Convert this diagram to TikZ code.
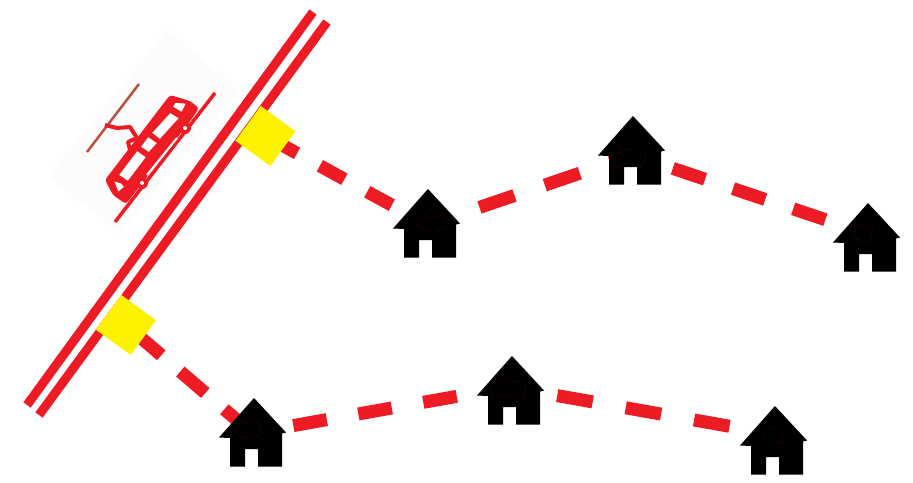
\documentclass[tikz,border=0pt]{standalone}
\usetikzlibrary{positioning,backgrounds}
\definecolor{railred}{HTML}{ED1C24}
\definecolor{stopyellow}{HTML}{FFF200}
\definecolor{wirebrown}{HTML}{B5533F}
\definecolor{tramhaze}{HTML}{FDFBFC}
\begin{document}
\begin{tikzpicture}[
  x=1pt,y=-1pt,
  rail/.style={draw=railred,line width=9pt},
  stopbox/.style={draw=none,fill=stopyellow,minimum size=43pt,inner sep=0pt,rotate=-36},
  link/.style={draw=railred,line width=13pt},
  pane/.style={fill=white,draw=railred,line width=1.5pt},
  roofline/.style={draw=railred!60!black,line width=0.35pt,densely dotted},
  hut/.pic={
    \fill[black] (0,0) -- (32,34.5) -- (28,35.5) -- (28,68.5) -- (4,68.5) -- (4,51)
      -- (-9,51) -- (-9,68.5) -- (-24,68.5) -- (-24,40) -- (-35,39.5) -- cycle;
  }
]
\useasboundingbox (0,0) rectangle (913,482);

% Stops and house points
\node[stopbox] (stopa) at (265.5,136) {};
\node[stopbox] (stopb) at (126,325) {};
\coordinate (hs1) at (428,225);
\coordinate (hs2) at (633,155);
\coordinate (hs3) at (868,234);
\coordinate (hs4) at (252,433);
\coordinate (hs5) at (509,387);
\coordinate (hs6) at (773,434);

\begin{scope}[on background layer]
% Tram
\fill[tramhaze] (167,30) -- (240,90) -- (120,233) -- (48,177) -- cycle;
\draw[wirebrown,line width=2.5pt] (139,84) -- (87,152);
\draw[railred,line width=3.5pt] (215,93) -- (115,222);
\draw[railred,line width=4pt,line join=round] (105,125) -- (117,128) -- (130,127) -- (137,138);
\draw[railred,line width=4pt,line join=round] (137,138) -- (128,142) -- (130,150);
\fill[railred,rounded corners=3pt] (170,95) -- (190,101) -- (199,108) -- (191,120)
  -- (126,204) -- (113,195) -- (105,180) -- cycle;
\fill[railred] (185,128) circle (6);
\fill[railred] (142,183) circle (6);
\filldraw[pane] (175,102) -- (187,103) -- (182,113) -- (172,107) -- cycle;
\filldraw[pane] (170,112) -- (180,118) -- (160,140) -- (151,133) -- cycle;
\filldraw[pane] (148,136) -- (158,143) -- (149,153) -- (140,147) -- cycle;
\filldraw[pane] (137,150) -- (147,157) -- (128,182) -- (118,175) -- cycle;
\filldraw[pane] (113,180) -- (122,183) -- (125,187) -- (118,193) -- cycle;
\draw[white,line width=2pt] (177,138) -- (147,175);
\fill[white] (185,128) circle (2);
\fill[white] (142,183) circle (2);

% Rails
\coordinate (raila1) at (27,405);
\coordinate (raila2) at (313,12);
\coordinate (railb1) at (39,415);
\coordinate (railb2) at (327,22);
\draw[rail] (raila1) -- (raila2);
\draw[rail] (railb1) -- (railb2);

% Links
\draw[link,dash pattern=on 28pt off 26pt,dash phase=46pt] (stopa.center) -- (hs1);
\draw[link,dash pattern=on 37pt off 32pt,dash phase=14.6pt] (hs1) -- (hs2);
\draw[link,dash pattern=on 34pt off 29.5pt,dash phase=21.5pt] (hs2) -- (hs3);
\draw[link,dash pattern=on 33pt off 25pt,dash phase=44.5pt] (stopb.center) -- (hs4);
\draw[link,dash pattern=on 34pt off 32pt,dash phase=24pt] (hs4) -- (hs5);
\draw[link,dash pattern=on 36pt off 33.5pt,dash phase=20.5pt] (hs5) -- (hs6);
\end{scope}

% Houses
\pic at (428,189) {hut};
\pic at (633,116) {hut};
\pic at (868,203) {hut};
\pic at (254,398) {hut};
\pic at (512,356) {hut};
\pic at (775,406) {hut};

% Marks on the roofs
\draw[roofline] (420.7,212.7) -- (431.7,218.3) -- (445,214) -- (449.3,226.7) -- (431.7,233.3) -- (415.7,225) -- cycle;
\draw[roofline] (610,156.7) -- (627.3,149.3) -- (645.7,155) -- (641.7,167.7) -- (628.3,163.3) -- (613.3,168.3) -- cycle;
\draw[roofline] (857.3,224) -- (873.3,228.3) -- (869,242.7) -- (852.7,238.3) -- cycle;
\draw[roofline] (237,417) -- (245,423) -- (259,421) -- (261,435) -- (242,438) -- (230,427) -- cycle;
\draw[roofline] (490,383.3) -- (510,380.7) -- (525.7,384) -- (523.3,396.7) -- (506.7,395) -- (491.7,397.3) -- cycle;
\draw[roofline] (765.7,426.7) -- (783.3,430) -- (781.7,443.3) -- (763.3,440) -- cycle;
\end{tikzpicture}
\end{document}
